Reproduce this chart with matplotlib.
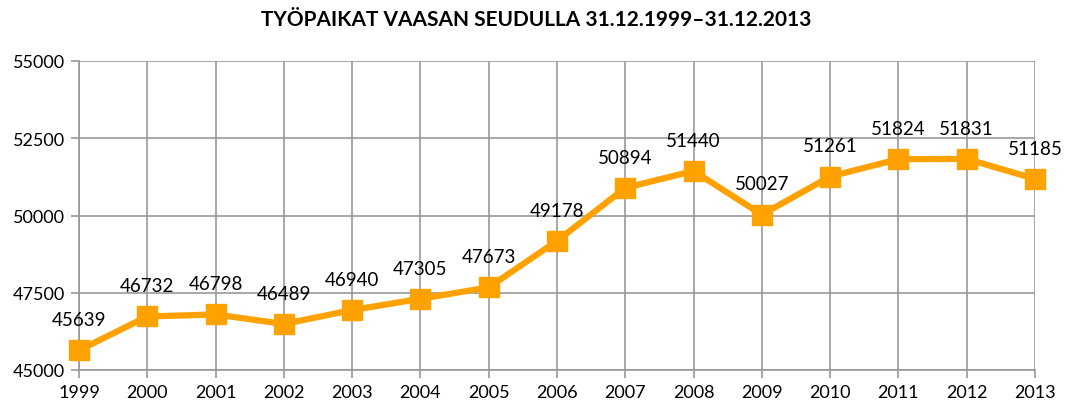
import matplotlib
matplotlib.use("Agg")
import matplotlib.pyplot as plt

years = [1999, 2000, 2001, 2002, 2003, 2004, 2005, 2006, 2007, 2008, 2009, 2010, 2011, 2012, 2013]
jobs = [45639, 46732, 46798, 46489, 46940, 47305, 47673, 49178, 50894, 51440, 50027, 51261, 51824, 51831, 51185]
y_ticks = [45000, 47500, 50000, 52500, 55000]
title = "TYÖPAIKAT VAASAN SEUDULLA 31.12.1999–31.12.2013"

plt.rcParams['font.family'] = ['Lato', 'DejaVu Sans']

fig = plt.figure(figsize=(10.73, 4.10), dpi=100)
ax = fig.add_axes([79/1073, 39/410, (1035-79)/1073, (371-62)/410])

grid_c = '#989898'
ax.set_xlim(1999, 2013)
ax.set_ylim(45000, 55000)
ax.set_xticks(years)
ax.set_yticks(y_ticks)
ax.set_xticklabels([str(y) for y in years], fontsize=13)
ax.set_yticklabels([str(v) for v in y_ticks], fontsize=13)
ax.grid(True, color=grid_c, linewidth=1.2)
ax.set_axisbelow(True)
for s in ['top', 'right']:
    ax.spines[s].set_visible(False)
for s in ['left', 'bottom']:
    ax.spines[s].set_color(grid_c)
    ax.spines[s].set_linewidth(1.2)
ax.tick_params(axis='both', color=grid_c, width=1.2, length=6, pad=4, labelcolor='black')

ax.plot(years, jobs, color='#FFA200', linewidth=4.5, marker='s', markersize=14,
        markerfacecolor='#FFA200', markeredgecolor='#FFA200', clip_on=False, zorder=3)
for x, v in zip(years, jobs):
    ax.annotate(str(v), (x, v), xytext=(0, 16), textcoords='offset points',
                ha='center', va='bottom', fontsize=13.5, color='black', annotation_clip=False)

fig.text(0.5, 1 - 20/410, title, ha='center', va='center', fontsize=15, fontweight='bold')

fig.savefig('out.png', dpi=100)
